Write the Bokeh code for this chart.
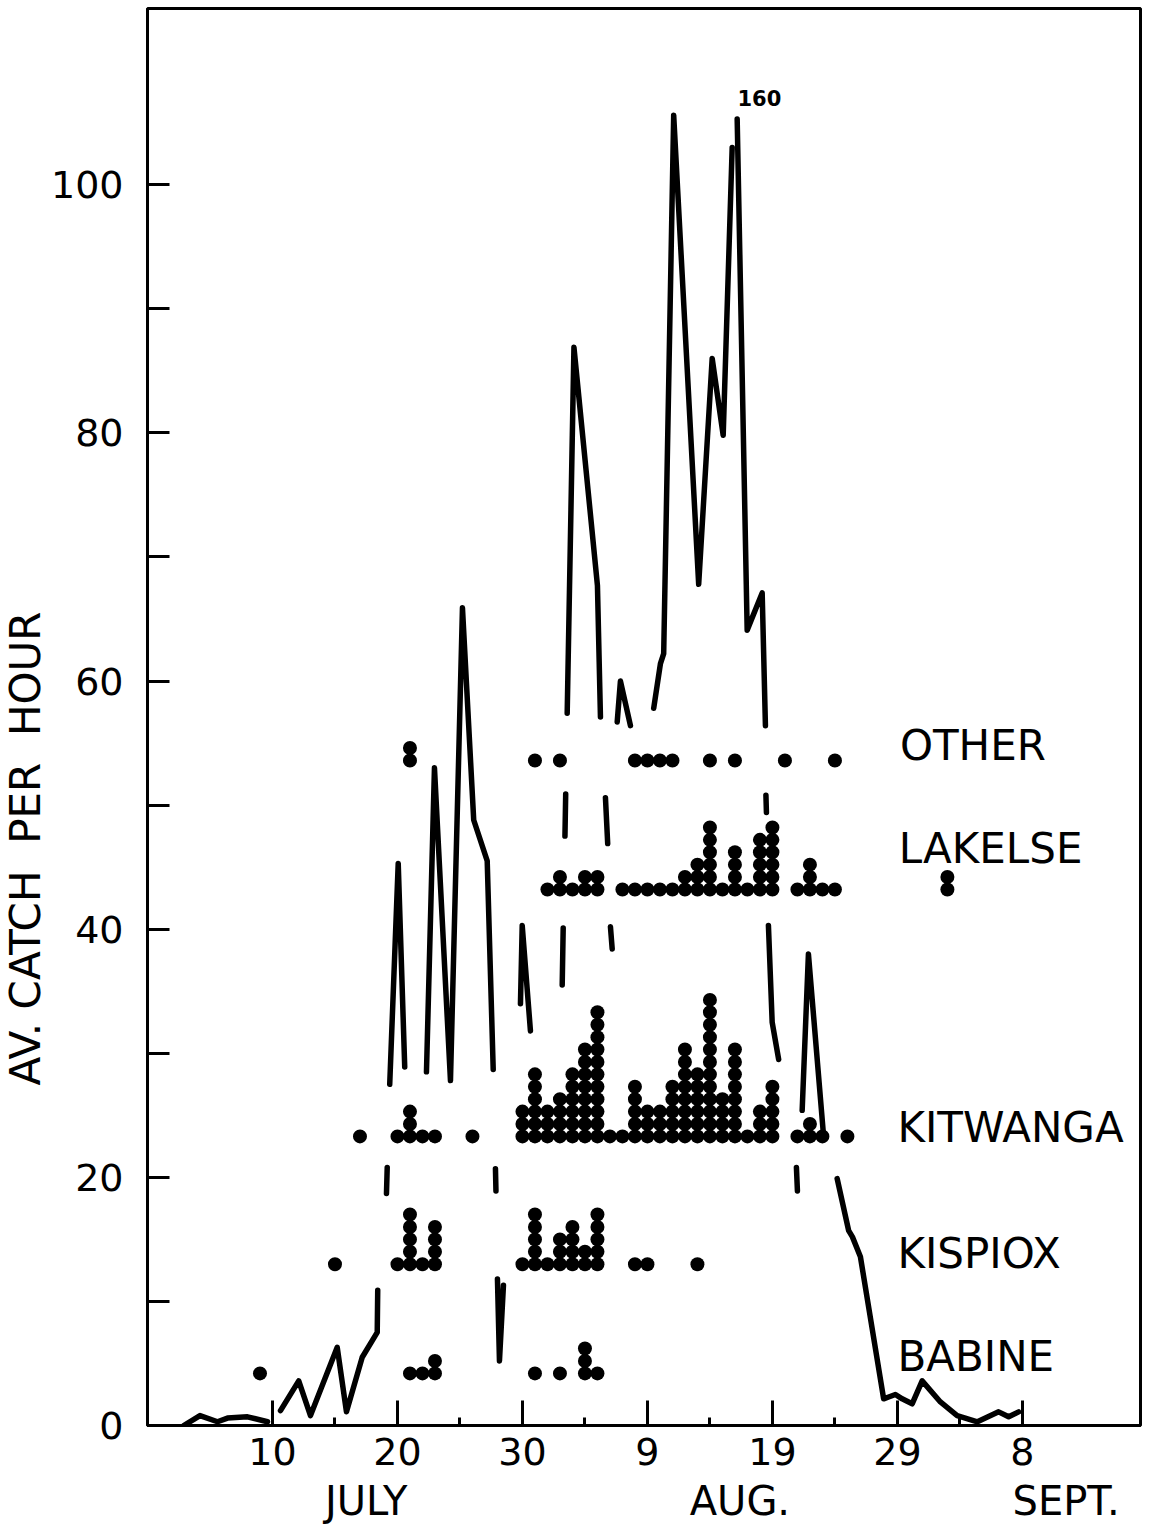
import math
from bokeh.plotting import figure
from bokeh.models import FixedTicker, Label, Range1d, LinearAxis, Title
from bokeh.embed import file_html
from bokeh.resources import INLINE

NaN = float("nan")

# x = day counted from 1 July (1 Aug = day 32, 1 Sept = day 63)
x_ticks = [10, 20, 30, 40, 50, 60, 70]
x_tick_labels = ["10", "20", "30", "9", "19", "29", "8"]
x_minor_ticks = [15, 25, 35, 45, 55, 65]
months = ["JULY", "AUG.", "SEPT."]
month_pos = [17.5, 47.4, 73.5]

y_ticks = [0, 10, 20, 30, 40, 50, 60, 70, 80, 90, 100]
y_tick_labels = ["0", "", "20", "", "40", "", "60", "", "80", "", "100"]
y_title = "AV.\u00a0CATCH\u00a0\u00a0PER\u00a0\u00a0HOUR"

# Average catch per hour (visible pieces of the hand-drawn line; NaN = break)
catch_day = [2.9, 4.2, 5.6, 6.4, 8.0, 9.6, NaN,
             10.64, 12.10, 13.04, 15.18, 15.92, 17.18, 18.38, 18.42, NaN,
             19.12, 19.18, NaN,
             19.38, 20.06, 20.58, NaN,
             22.32, 22.96, 24.24, 25.20, 26.10, 27.18, 27.66, NaN,
             27.84, 27.88, NaN,
             28.00, 28.16, 28.48, NaN,
             29.84, 29.98, 30.64, NaN,
             33.18, 33.26, NaN,
             33.40, 33.46, NaN,
             33.58, 34.12, 36.00, 36.24, NaN,
             36.64, 36.82, NaN,
             37.04, 37.18, NaN,
             37.58, 37.84, 38.64, NaN,
             40.50, 41.04, 41.30, 42.10, 44.10, 45.18, 46.06, 46.78, NaN,
             47.18, 47.98, 49.18, 49.44, NaN,
             49.48, 49.52, NaN,
             49.68, 49.98, 50.50, NaN,
             51.92, 52.00, NaN,
             52.38, 52.88, 54.08, NaN,
             55.18, 56.10, 56.40, 57.04, 58.90, 59.30, 59.84, 60.38, 61.18,
             61.98, 63.44, 64.78, 66.40, 68.10, 68.90, 69.70]
catch_val = [0.0, 0.8, 0.3, 0.6, 0.7, 0.3, NaN,
             1.2, 3.6, 0.8, 6.3, 1.1, 5.5, 7.5, 10.9, NaN,
             18.7, 20.8, NaN,
             27.5, 45.3, 28.9, NaN,
             28.5, 53.0, 27.8, 65.9, 48.8, 45.5, 28.7, NaN,
             20.7, 18.9, NaN,
             11.8, 5.2, 11.3, NaN,
             34.0, 40.3, 31.8, NaN,
             35.5, 40.1, NaN,
             47.5, 50.9, NaN,
             57.4, 86.9, 67.7, 57.1, NaN,
             50.6, 46.9, NaN,
             40.2, 38.4, NaN,
             56.7, 60.0, 56.4, NaN,
             57.8, 61.4, 62.2, 105.6, 67.8, 86.0, 79.8, 103.0, NaN,
             105.3, 64.1, 67.1, 56.4, NaN,
             50.8, 49.4, NaN,
             40.3, 32.5, 29.5, NaN,
             20.8, 18.9, NaN,
             25.4, 38.0, 23.5, NaN,
             19.9, 15.7, 15.2, 13.6, 2.15, 2.3, 2.5, 2.15, 1.75,
             3.6, 1.9, 0.8, 0.3, 1.1, 0.7, 1.1]

# Tag recoveries: one dot per fish, stacked per day, for each stream
streams = ["OTHER", "LAKELSE", "KITWANGA", "KISPIOX", "BABINE"]
stream_base = [53.6, 43.2, 23.3, 13.0, 4.2]

other_days = [21, 31, 33, 39, 40, 41, 42, 45, 47, 51, 55]
other_counts = [2, 1, 1, 1, 1, 1, 1, 1, 1, 1, 1]

lakelse_days = [32, 33, 34, 35, 36, 38, 39, 40, 41, 42, 43, 44, 45, 46, 47, 48, 49, 50,
                52, 53, 54, 55, 64]
lakelse_counts = [1, 2, 1, 2, 2, 1, 1, 1, 1, 1, 2, 3, 6, 1, 4, 1, 5, 6,
                  1, 3, 1, 1, 2]

kitwanga_days = [17, 20, 21, 22, 23, 26, 30, 31, 32, 33, 34, 35, 36, 37, 38, 39, 40, 41, 42,
                 43, 44, 45, 46, 47, 48, 49, 50, 52, 53, 54, 56]
kitwanga_counts = [1, 1, 3, 1, 1, 1, 3, 6, 3, 4, 6, 8, 11, 1, 1, 5, 3, 3, 5,
                   8, 6, 12, 4, 8, 1, 3, 5, 1, 2, 1, 1]

kispiox_days = [15, 20, 21, 22, 23, 30, 31, 32, 33, 34, 35, 36, 39, 40, 44]
kispiox_counts = [1, 1, 5, 1, 4, 1, 5, 1, 3, 4, 2, 5, 1, 1, 1]

babine_days = [9, 21, 22, 23, 31, 33, 35, 36]
babine_counts = [1, 1, 1, 2, 1, 1, 3, 1]

stream_days = [other_days, lakelse_days, kitwanga_days, kispiox_days, babine_days]
stream_counts = [other_counts, lakelse_counts, kitwanga_counts, kispiox_counts, babine_counts]

label_pos_x = [60.2, 60.1, 60.0, 60.0, 60.0]
label_pos_y = [54.8, 46.5, 24.0, 13.9, 5.6]

FONT = "DejaVu Sans"

p = figure(width=1155, height=1529, output_backend="svg", toolbar_location=None,
           x_range=Range1d(0, 79.45), y_range=Range1d(0, 114.2),
           min_border_left=147, min_border_right=15, min_border_top=8, min_border_bottom=104)
p.background_fill_color = "white"
p.border_fill_color = "white"
p.outline_line_color = "black"
p.outline_line_width = 3
p.outline_line_alpha = 1.0
p.xgrid.visible = False
p.ygrid.visible = False

xa = p.xaxis[0]
xa.ticker = FixedTicker(ticks=x_ticks, minor_ticks=x_minor_ticks)
xa.major_label_overrides = {t: l for t, l in zip(x_ticks, x_tick_labels)}
xa.major_tick_in = 25
xa.major_tick_out = 0
xa.minor_tick_in = 8
xa.minor_tick_out = 0
xa.major_tick_line_width = 3
xa.minor_tick_line_width = 3
xa.axis_line_width = 3
xa.major_label_text_font = FONT
xa.major_label_text_font_size = "38px"
xa.major_label_text_color = "black"
xa.major_label_standoff = 12

# month names as a second axis below the day numbers
ma = LinearAxis(ticker=FixedTicker(ticks=month_pos, minor_ticks=[]),
                major_label_overrides={t: m for t, m in zip(month_pos, months)},
                axis_line_color=None, major_tick_line_color=None, minor_tick_line_color=None,
                major_label_text_font=FONT, major_label_text_font_size="40px",
                major_label_text_color="black", major_label_standoff=4)
p.add_layout(ma, "below")

ya = p.yaxis[0]
ya.ticker = FixedTicker(ticks=y_ticks, minor_ticks=[])
ya.major_label_overrides = {t: l for t, l in zip(y_ticks, y_tick_labels)}
ya.major_tick_in = 22
ya.major_tick_out = 0
ya.major_tick_line_width = 3
ya.axis_line_width = 3
ya.major_label_text_font = FONT
ya.major_label_text_font_size = "38px"
ya.major_label_text_color = "black"
ya.major_label_standoff = 24

# vertical axis title (starts 340 px above the bottom of the frame)
p.add_layout(Title(text=y_title, text_font=FONT, text_font_size="42px",
                   text_font_style="normal", text_color="black",
                   align="left", offset=340, standoff=-4), "left")

# catch line
p.line(catch_day, catch_val, line_color="black", line_width=5.5,
       line_join="round", line_cap="round")

# dot columns
for base, days, counts in zip(stream_base, stream_days, stream_counts):
    xs, ys = [], []
    for d, c in zip(days, counts):
        for k in range(c):
            xs.append(d)
            ys.append(base + k)
    p.scatter(xs, ys, size=14, color="black", line_width=0)

# stream names
for name, lx, ly in zip(streams, label_pos_x, label_pos_y):
    p.add_layout(Label(x=lx, y=ly, text=name, text_font=FONT, text_font_size="42px",
                       text_color="black", text_baseline="middle", text_align="left"))

# off-scale value note
p.add_layout(Label(x=48.96, y=107.0, text="160", text_font=FONT, text_font_size="21px",
                   text_font_style="bold", text_color="black",
                   text_baseline="middle", text_align="center"))

open("out.html", "w").write(file_html(p, INLINE))
